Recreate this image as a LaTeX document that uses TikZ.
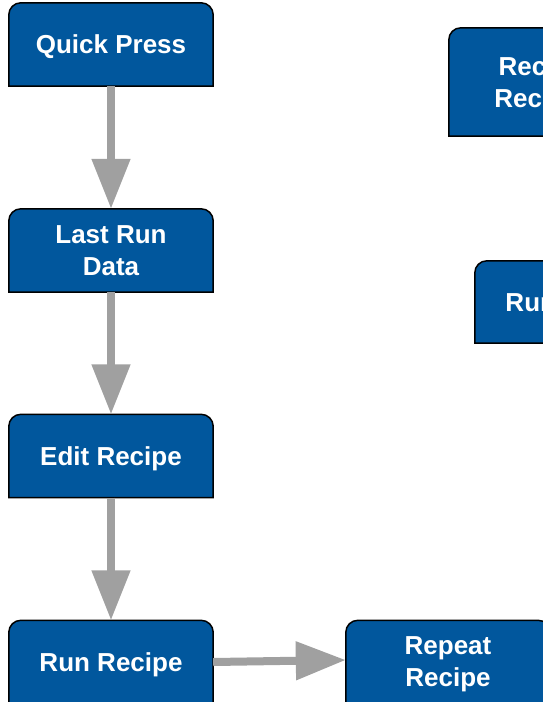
\documentclass[tikz,border=0pt]{standalone}
\usepackage{fontspec}
\setmainfont{Liberation Sans}
\usetikzlibrary{arrows.meta,backgrounds}
\definecolor{azul}{RGB}{1,87,157}
\definecolor{gris}{RGB}{160,160,160}

\begin{document}
\begin{tikzpicture}[
      x=1pt, y=-1pt,
      paso/.style={align=center, text=white, inner sep=0pt, text depth=-5pt,
                   font=\fontsize{26}{32}\selectfont\bfseries,
                   minimum width=204pt, minimum height=83pt},
      caja/.style={draw=black, fill=azul, line width=1.5pt},
      flecha/.style={draw=gris, line width=8pt,
                     -{Triangle[length=50pt,width=37pt]}}
    ]
    \clip (0,0) rectangle (542,702);

    \node[paso] (qp) at (111,44.5)  {Quick Press};
    \node[paso] (lr) at (111,250.5) {Last Run\\Data};
    \node[paso] (er) at (111,456)   {Edit Recipe};
    \node[paso] (rr) at (111,662)   {Run Recipe};
    \node[paso] (rp) at (448,662)   {Repeat\\Recipe};
    \node[paso, minimum width=176pt, minimum height=108pt] (rc) at (537,82) {Recall\\Recipe};
    \node[paso, minimum height=82pt] (rn) at (577,302) {Run Recipe};

    % cajas con esquinas superiores redondeadas
    \begin{scope}[on background layer]
      \foreach \n in {qp,lr,er,rr,rp,rc,rn}
        \draw[caja] (\n.south west) [rounded corners=12pt] -- (\n.north west)
          -- (\n.north east) [sharp corners] -- (\n.south east) -- cycle;
    \end{scope}

    \draw[flecha] (qp) -- (lr);
    \draw[flecha] (lr) -- (er);
    \draw[flecha] (er) -- (rr);
    \draw[flecha] (rr.east) -- ([yshift=2pt]rp.west);
  \end{tikzpicture}
\end{document}
